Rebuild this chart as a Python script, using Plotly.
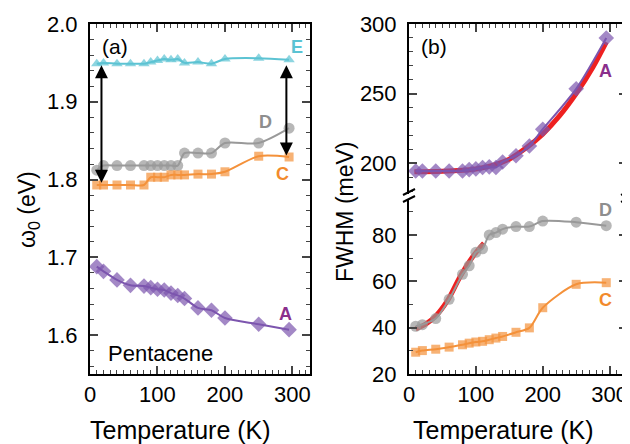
import plotly.graph_objects as go

# ---------------- data ----------------
T = [10, 20, 40, 60, 80, 90, 100, 110, 120, 130, 140, 160, 180, 200, 250, 295]

# panel (a): peak energies (eV)
E_w0 = [1.949, 1.950, 1.949, 1.949, 1.949, 1.951, 1.953, 1.955, 1.954, 1.955, 1.950, 1.951, 1.949, 1.955, 1.956, 1.954]
D_w0 = [1.812, 1.818, 1.818, 1.818, 1.818, 1.818, 1.818, 1.818, 1.818, 1.818, 1.834, 1.834, 1.834, 1.847, 1.847, 1.866]
C_w0 = [1.793, 1.793, 1.793, 1.793, 1.793, 1.803, 1.803, 1.803, 1.806, 1.806, 1.806, 1.807, 1.807, 1.810, 1.830, 1.829]
A_w0 = [1.688, 1.682, 1.671, 1.664, 1.663, 1.661, 1.659, 1.658, 1.654, 1.651, 1.647, 1.635, 1.632, 1.622, 1.614, 1.607]

# panel (b): FWHM (meV)
A_fw = [194.5, 194.5, 194.5, 194.5, 194.5, 195.5, 196.0, 197.0, 197.5, 197.0, 201.0, 205.5, 212.5, 224.5, 253.5, 290.0]
D_fw = [40.6, 41.3, 43.9, 52.2, 63.0, 66.7, 72.5, 74.0, 80.0, 81.0, 82.5, 83.6, 83.6, 86.0, 85.5, 84.0]
C_fw = [29.4, 30.1, 30.7, 31.6, 32.6, 33.3, 33.8, 34.1, 34.8, 35.5, 36.2, 38.0, 39.9, 48.6, 58.7, 59.4]

# red fit curves
fitA_T = [8, 50, 100, 125, 150, 175, 200, 225, 250, 275, 295]
fitA_v = [194.0, 194.3, 196.0, 198.5, 203.0, 211.0, 221.0, 234.0, 250.0, 269.0, 287.0]
fitD_T = [10, 25, 40, 57, 77, 95, 112]
fitD_v = [39.5, 41.5, 45.0, 51.4, 62.3, 70.5, 76.5]

# arrows in panel (a): (T, top, bottom)
arrow_T = [17, 291]
arrow_top = [1.949, 1.949]
arrow_bot = [1.796, 1.831]

x_ticks = [0, 100, 200, 300]

# ---------------- styling ----------------
OFF = 8                       # default page margin of the html body
W, H = 630 - OFF, 444 - OFF
FONT = "Liberation Sans, Arial, sans-serif"
cyan = "#5cc3d3"
orange = "#f4913a"
gray = "#999999"
purple = "#7c55ae"
red = "#ee2020"

def px(x):
    return (x - OFF) / W

def py(y):
    return 1 - (y - OFF) / H

fig = go.Figure()

def series(x, y, color, symbol, size, xa, ya, width=2):
    fig.add_trace(go.Scatter(
        x=x, y=y, mode="lines+markers", xaxis=xa, yaxis=ya,
        line=dict(color=color, width=width, shape="spline", smoothing=0.8),
        marker=dict(symbol=symbol, size=size, color=color, opacity=0.7,
                    line=dict(width=0)),
        showlegend=False))

# panel (a)
series(T, E_w0, cyan, "triangle-up", 10, "x", "y")
series(T, D_w0, gray, "circle", 11, "x", "y")
series(T, C_w0, orange, "square", 9, "x", "y")
series(T, A_w0, purple, "diamond", 12, "x", "y")

# panel (b) upper
fig.add_trace(go.Scatter(x=fitA_T, y=fitA_v, mode="lines", xaxis="x3", yaxis="y3",
                         line=dict(color=red, width=5, shape="spline"), showlegend=False))
series(T, A_fw, purple, "diamond", 12, "x3", "y3")

# panel (b) lower
fig.add_trace(go.Scatter(x=fitD_T, y=fitD_v, mode="lines", xaxis="x2", yaxis="y2",
                         line=dict(color=red, width=5, shape="spline"), showlegend=False))
series(T, D_fw, gray, "circle", 11, "x2", "y2")
series(T, C_fw, orange, "square", 9, "x2", "y2")

tickfont = dict(family=FONT, size=22, color="black")

def xaxis(domain, anchor, side="bottom", labels=True, mirror="allticks"):
    return dict(domain=domain, anchor=anchor, range=[0, 326], side=side,
                tickvals=x_ticks, ticks="inside", ticklen=8, tickwidth=1.5,
                showline=True, linewidth=2, linecolor="black", mirror=mirror,
                showticklabels=labels, tickfont=tickfont, showgrid=False,
                zeroline=False, automargin=False, ticklabelstandoff=0,
                ticklabeloverflow="allow",
                minor=dict(dtick=10, tick0=0, ticks="inside", ticklen=4, tickwidth=1.2,
                           showgrid=False))

def yaxis(domain, anchor, rng, dtick, mdtick, fmt=None):
    d = dict(domain=domain, anchor=anchor, range=rng, dtick=dtick, tick0=0,
             ticks="inside", ticklen=8, tickwidth=1.5,
             showline=True, linewidth=2, linecolor="black", mirror="allticks",
             tickfont=tickfont, showgrid=False, zeroline=False, ticklabelstandoff=6,
             automargin=False, ticklabeloverflow="allow",
             minor=dict(dtick=mdtick, ticks="inside", ticklen=4, tickwidth=1.2,
                        showgrid=False))
    if fmt:
        d["tickformat"] = fmt
    return d

xa_dom = [px(90), px(310)]
xb_dom = [px(409), px(627)]
ya_dom = [py(374), py(24)]
yb_up = [py(194), py(24)]
yb_lo = [py(374), py(199)]

fig.update_layout(
    width=W, height=H, margin=dict(l=0, r=0, t=0, b=0, autoexpand=False),
    paper_bgcolor="white", plot_bgcolor="white",
    font=dict(family=FONT, color="black"),
    xaxis=xaxis(xa_dom, "y"),
    yaxis=yaxis(ya_dom, "x", [1.55, 2.0], 0.1, 0.02, ".1f"),
    xaxis2=xaxis(xb_dom, "y2", mirror=False),
    yaxis2=yaxis(yb_lo, "x2", [20, 95.5], 20, 10),
    xaxis3=xaxis(xb_dom, "y3", side="top", labels=False, mirror=False),
    yaxis3=yaxis(yb_up, "x3", [178, 300], 50, 10),
)

ann = []
# arrows (double-headed)
for t, top, bot in zip(arrow_T, arrow_top, arrow_bot):
    ann.append(dict(x=t, y=bot, ax=t, ay=top, xref="x", yref="y", axref="x", ayref="y",
                    showarrow=True, arrowhead=2, arrowsize=1.3, arrowwidth=2,
                    arrowside="end+start", arrowcolor="black", text=""))

def label(x, y, text, size=21, color="black", bold=False, xanchor="center"):
    ann.append(dict(x=px(x), y=py(y), xref="paper", yref="paper", text=text,
                    showarrow=False, xanchor=xanchor, yanchor="middle",
                    font=dict(family=FONT, size=size, color=color,
                              weight="bold" if bold else "normal")))

label(100, 46, "(a)", xanchor="left")
label(106, 353, "Pentacene", size=22, xanchor="left")
label(297, 47, "E", size=18, color="#5bc3d3", bold=True)
label(265, 122, "D", size=18, color="#8e8e8e", bold=True)
label(282, 174, "C", size=18, color="#f28a2c", bold=True)
label(285, 314, "A", size=18, color="#8a2f8c", bold=True)
label(419, 46, "(b)", xanchor="left")
label(605, 71, "A", size=18, color="#8a2f8c", bold=True)
label(605, 210, "D", size=18, color="#8e8e8e", bold=True)
label(605, 300, "C", size=18, color="#f28a2c", bold=True)

label(180, 430, "Temperature (K)", size=25)
label(503, 430, "Temperature (K)", size=25)
ann.append(dict(x=px(28), y=py(210), xref="paper", yref="paper", text="ω<sub>0</sub> (eV)",
                showarrow=False, textangle=-90, xanchor="center", yanchor="middle",
                font=dict(family=FONT, size=23, color="black")))
ann.append(dict(x=px(345), y=py(212), xref="paper", yref="paper", text="FWHM (meV)",
                showarrow=False, textangle=-90, xanchor="center", yanchor="middle",
                font=dict(family=FONT, size=23, color="black")))
fig.update_layout(annotations=ann)

# axis-break marks
shapes = []
for xb in (409, 627):
    for yb in (192, 199):
        shapes.append(dict(type="line", xref="paper", yref="paper",
                           x0=px(xb - 6), y0=py(yb + 3), x1=px(xb + 6), y1=py(yb - 3),
                           line=dict(color="black", width=2)))
fig.update_layout(shapes=shapes)

fig.write_html("out.html")
